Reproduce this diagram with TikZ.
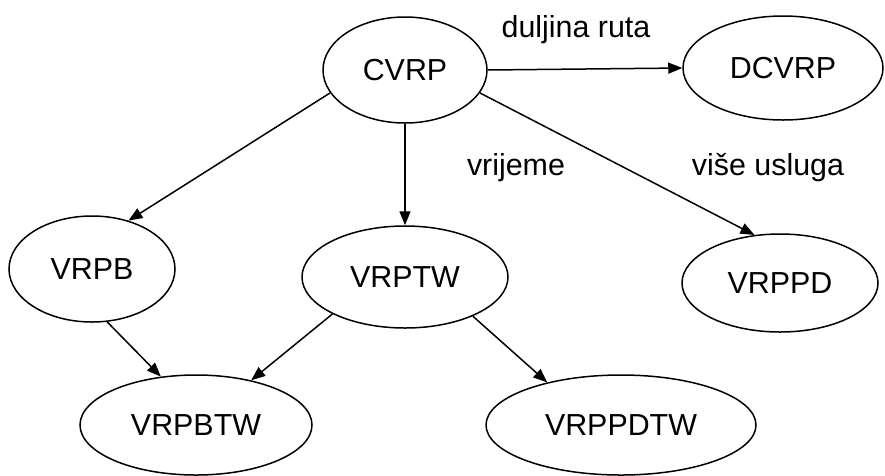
\documentclass[tikz,border=0pt]{standalone}
\usepackage{fontspec}
\setmainfont{Liberation Sans}
\usetikzlibrary{shapes.geometric,arrows.meta}

\begin{document}
\begin{tikzpicture}[x=1pt,y=-1pt]
              \tikzstyle{every node}+=[inner sep=0pt,font=\fontsize{30.4}{36}\selectfont]
              \tikzstyle{problem}=[draw,ellipse,line width=1.5pt]
              \tikzstyle{edge}=[line width=1.5pt,-{Triangle[length=14pt,width=11pt]}]
              \useasboundingbox (0,0) rectangle (885,475);
              \node [problem,minimum width=164,minimum height=106] (cvrp) at (405,70) {CVRP};
              \node [problem,minimum width=200,minimum height=104] (dcvrp) at (783,68) {DCVRP};
              \node [problem,minimum width=166,minimum height=106] (vrpb) at (92,269) {VRPB};
              \node [problem,minimum width=206,minimum height=102] (vrptw) at (405,277) {VRPTW};
              \node [problem,minimum width=196,minimum height=98] (vrppd) at (780,283) {VRPPD};
              \node [problem,minimum width=232,minimum height=100] (vrpbtw) at (196,425) {VRPBTW};
              \node [problem,minimum width=270,minimum height=100] (vrppdtw) at (621,425) {VRPPDTW};
              \draw [edge] (cvrp.east) -- (dcvrp.west);
              \node (l1) at (576,30) {duljina ruta};
              \draw [edge] (cvrp.197) -- (vrpb.53);
              \draw [edge] (cvrp.south) -- (vrptw.north);
              \node (l2) at (516,168) {vrijeme};
              \draw [edge] (cvrp.-17) -- (vrppd.118);
              \node (l3) at (768,168) {više usluga};
              \draw [edge] (vrpb.-74) -- (vrpbtw.126);
              \draw [edge] (vrptw.207) -- (vrpbtw.39);
              \draw [edge] (vrptw.330) -- (vrppdtw.150);
            \end{tikzpicture}
\end{document}
